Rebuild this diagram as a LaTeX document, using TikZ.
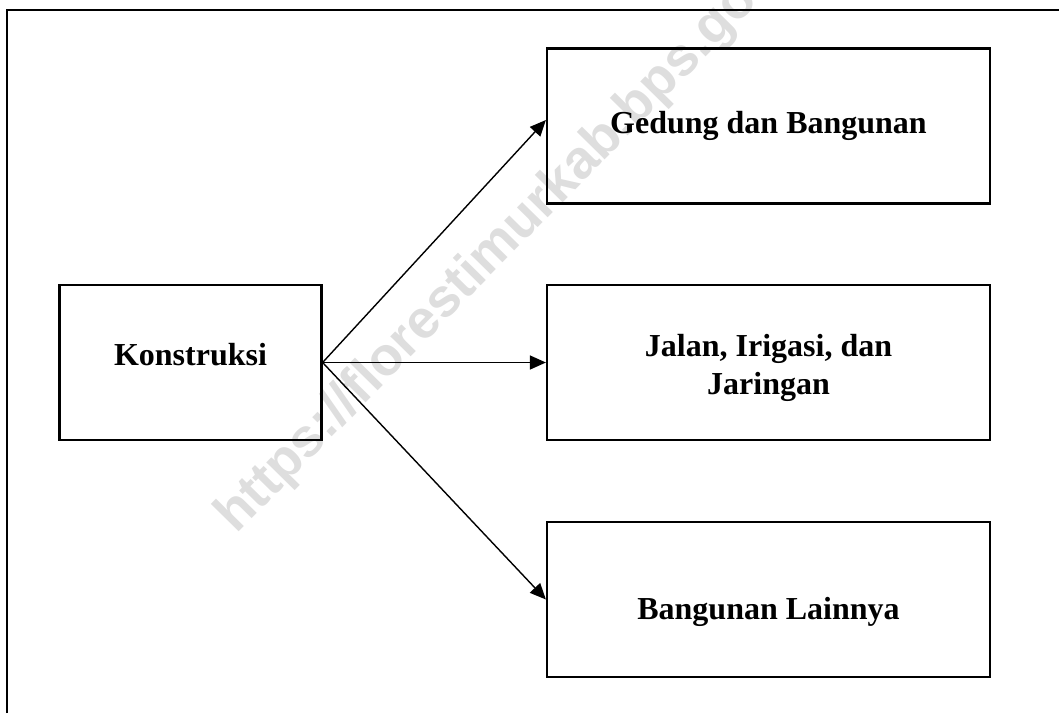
\documentclass[tikz,border=0pt]{standalone}
\usepackage{fontspec}
\setmainfont{Liberation Serif}
\newfontfamily\wmfont{Liberation Sans}
\usetikzlibrary{arrows.meta,positioning}
\tikzset{
  box/.style ={draw,line width=1.1pt,minimum width=221.5pt,minimum height=77.5pt,inner sep=0pt},
  src/.style ={draw,line width=1.1pt,minimum width=131pt,minimum height=77.5pt,inner sep=0pt},
  txt/.style ={font=\fontsize{16}{19}\selectfont\bfseries,align=center,inner sep=0pt},
  ar/.style  ={line width=0.7pt,-{Triangle[length=8pt,width=7pt]}},
  frm/.style ={line width=1.1pt},
  wm/.style  ={font=\fontsize{27}{31}\selectfont\wmfont\bfseries,text=black!13,
               rotate=45.5,anchor=base west,inner sep=0pt},
}
\begin{document}
\begin{tikzpicture}[x=0.5pt,y=-0.5pt]
  \useasboundingbox (0,0) rectangle (1059,713);
  \clip (0,0) rectangle (1059,713);
  % watermark
  \node[wm] (mark) at (236,535) {https://florestimurkab.bps.go.id};
  % frame (open at right and bottom)
  \coordinate (f1) at (7,713);
  \coordinate (f2) at (7,10);
  \coordinate (f3) at (1059,10);
  \draw[frm] (f1) -- (f2) -- (f3);
  % boxes
  \node[src] (kon) at (190.5,362.5) {};
  \node[box] (ged) at (768.5,126) {};
  \node[box] (jal) at (768.5,362.5) {};
  \node[box] (lain) at (768.5,599.5) {};
  \node[txt] (tkon) at (190.5,355) {Konstruksi};
  \node[txt] (tged) at (768.5,126) {Gedung dan Bangunan};
  \node[txt] (tjal) at (768.5,368) {Jalan, Irigasi, dan\\Jaringan};
  \node[txt] (tlain) at (768.5,612) {Bangunan Lainnya};
  % arrows
  \draw[ar] (kon.east) -- ([yshift=3pt]ged.west);
  \draw[ar] (kon.east) -- (jal.west);
  \draw[ar] (kon.east) -- (lain.west);
\end{tikzpicture}
\end{document}
